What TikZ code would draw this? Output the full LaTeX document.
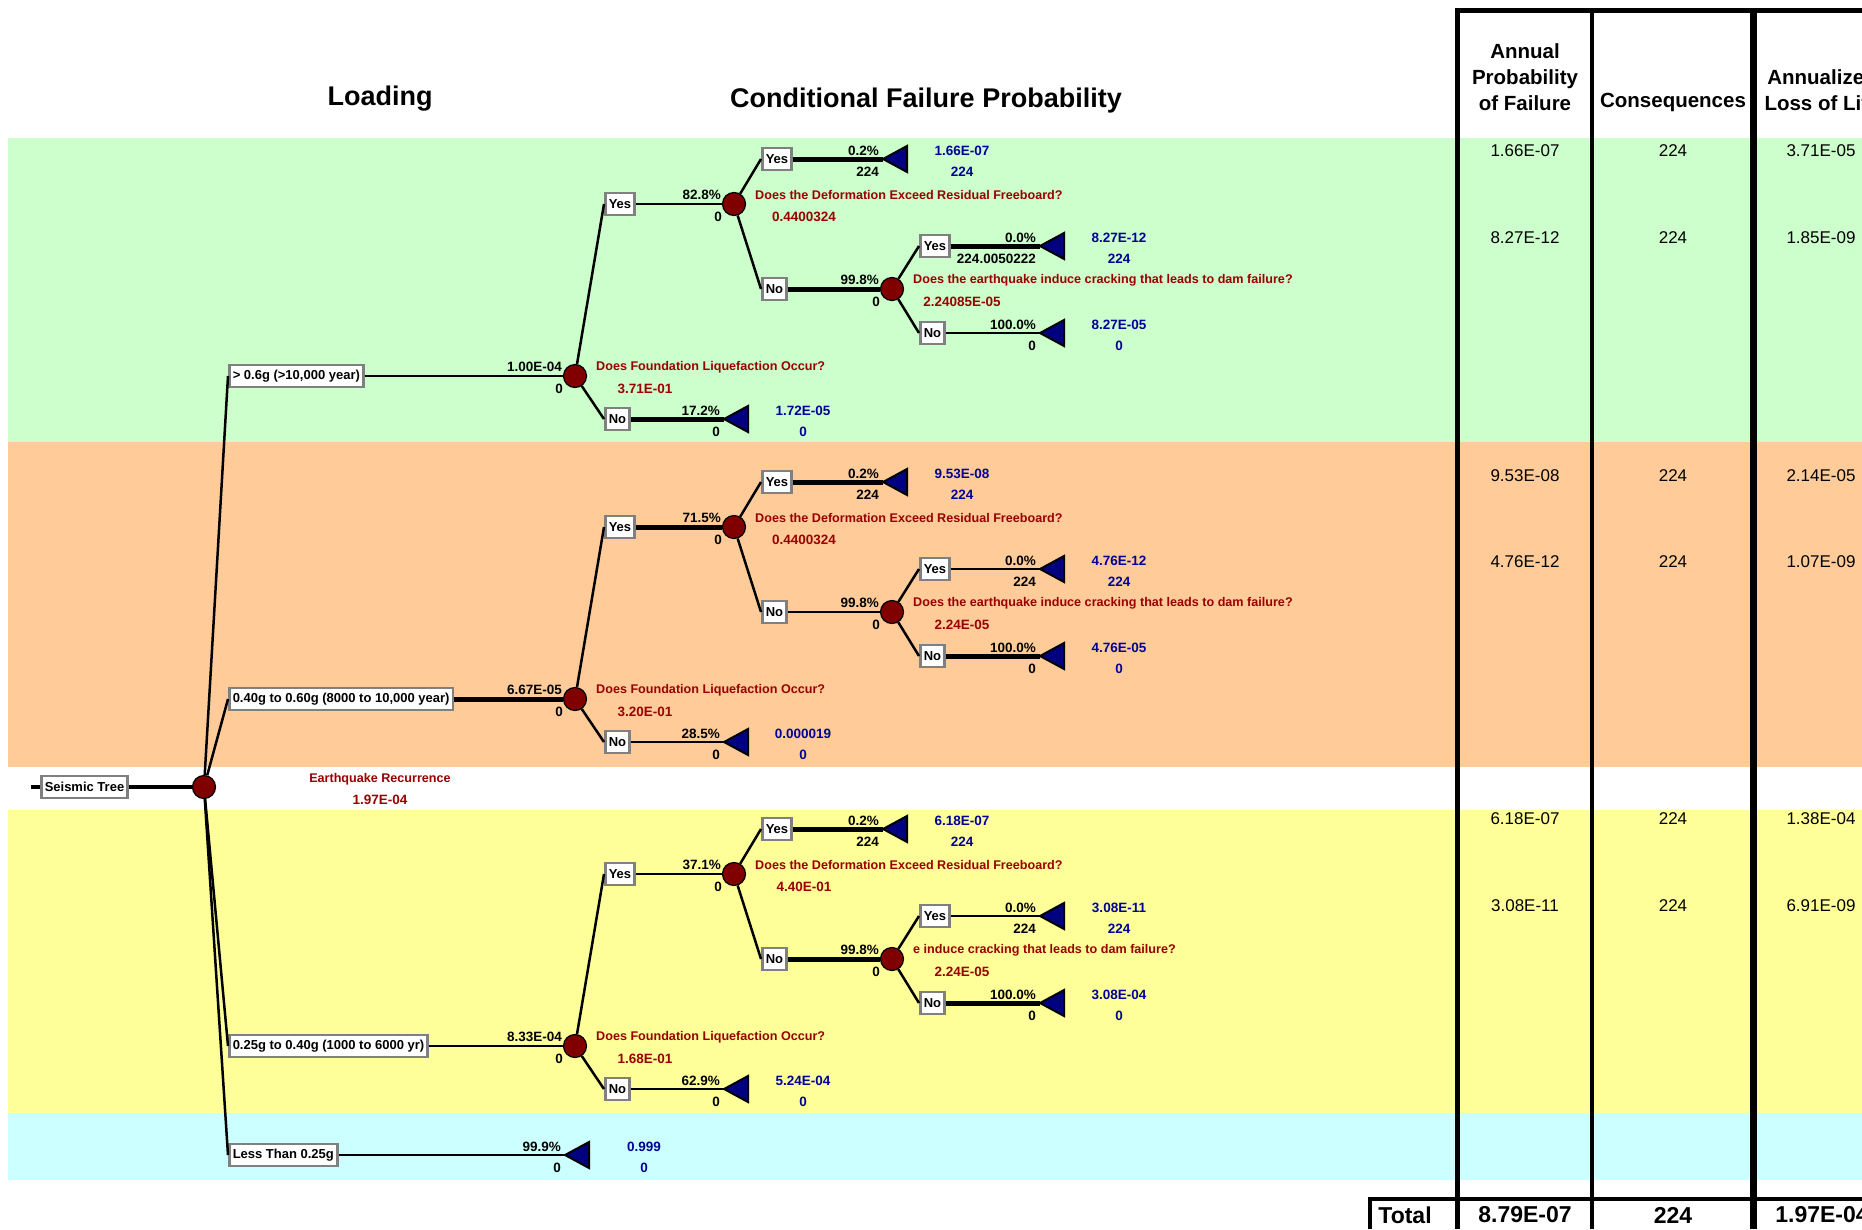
\documentclass[tikz,border=0pt]{standalone}
\usepackage{fontspec}
\setmainfont{Liberation Sans}

\definecolor{bandgreen}{HTML}{CCFFCC}
\definecolor{bandorange}{HTML}{FFCC99}
\definecolor{bandyellow}{HTML}{FFFF99}
\definecolor{bandcyan}{HTML}{CCFFFF}
\definecolor{nodered}{HTML}{800000}
\definecolor{qred}{HTML}{990000}
\definecolor{vblue}{HTML}{000099}
\definecolor{tipblue}{HTML}{000080}
\definecolor{boxgray}{HTML}{808080}

\tikzset{
  chance/.style={circle, draw=black, line width=1.2pt, fill=nodered, minimum size=23pt, inner sep=0pt},
  ans/.style={draw=boxgray, line width=2.5pt, fill=white, minimum height=22pt, inner xsep=3.5pt, inner ysep=2pt, font=\bfseries\fontsize{13}{13}\selectfont},
  num/.style={inner sep=1pt, font=\bfseries\fontsize{13.5}{13.5}\selectfont},
  quest/.style={inner sep=1pt, text=qred, font=\bfseries\fontsize{12.6}{12.6}\selectfont},
  qval/.style={num, text=qred},
  val/.style={num, text=vblue},
  endtip/.style={draw=black, line width=2pt, fill=tipblue, line join=miter},
  conn/.style={line width=2.5pt},
  branch/.style={line width=2pt},
  heavy/.style={line width=5pt},
  heading/.style={font=\bfseries\fontsize{27}{27}\selectfont},
  colhead/.style={align=center, font=\bfseries\fontsize{20.5}{26}\selectfont},
  cell/.style={font=\fontsize{17}{17}\selectfont},
  totcell/.style={font=\bfseries\fontsize{23}{23}\selectfont},
  rule/.style={line width=5pt}
}

\begin{document}
\begin{tikzpicture}[x=1pt,y=-1pt]
\useasboundingbox (0,0) rectangle (1862,1229);
\clip (0,0) rectangle (1862,1229);
% bands
\fill[bandgreen] (8,138) rectangle (1862,442);
\fill[bandorange] (8,442) rectangle (1862,767);
\fill[bandyellow] (8,810) rectangle (1862,1113);
\fill[bandcyan] (8,1113) rectangle (1862,1180);

% table
\draw[rule] (1457,8) -- (1457,1229);
\draw[rule, line width=4.5pt] (1592,8) -- (1592,1229);
\draw[rule, line width=7pt] (1753.5,8) -- (1753.5,1229);
\draw[rule] (1455,10.5) -- (1862,10.5);
\draw[line width=4pt] (1368,1199) -- (1862,1199);
\draw[line width=4pt] (1370,1197) -- (1370,1229);
\node[colhead] (th1) at (1525,77) {Annual\\Probability\\of Failure};
\node[colhead] (th2) at (1673,102) {Consequences};
\node[colhead] (th3) at (1822,90) {Annualized\\Loss of Life};
\foreach \yy/\pf/\al in {151/1.66E-07/3.71E-05, 238/8.27E-12/1.85E-09,
    476/9.53E-08/2.14E-05, 562/4.76E-12/1.07E-09,
    819/6.18E-07/1.38E-04, 906/3.08E-11/6.91E-09}
{
  \node[cell] (pf\yy) at (1525,\yy) {\pf};
  \node[cell] (cq\yy) at (1673,\yy) {224};
  \node[cell] (al\yy) at (1821,\yy) {\al};
}
\node[totcell] (tot) at (1405,1215) {Total};
\node[totcell] (totpf) at (1525,1215) {8.79E-07};
\node[totcell] (totcq) at (1673,1215) {224};
\node[totcell] (total) at (1822,1215) {1.97E-04};

% headings
\node[heading] (hload) at (380,99) {Loading};
\node[heading] (hcfp) at (926,101) {Conditional Failure Probability};

% root and loading
\coordinate (stub) at (31,787);
\node[ans, anchor=west] (seis) at (40,787) {Seismic Tree};
\node[chance] (root) at (204,787) {};
\node[quest] (eqr) at (380,779) {Earthquake Recurrence};
\node[qval] (eqv) at (380,800) {1.97E-04};
\node[ans, anchor=west] (hib) at (228,376) {> 0.6g (>10,000 year)};
\node[ans, anchor=west] (mdb) at (228,699) {0.40g to 0.60g (8000 to 10,000 year)};
\node[ans, anchor=west] (lob) at (228,1046) {0.25g to 0.40g (1000 to 6000 yr)};
\node[ans, anchor=west] (ltb) at (228,1155) {Less Than 0.25g};
\coordinate (ltt) at (565,1155);

% one subtree per band
\foreach \bd/\Y in {hi/376, md/699, lo/1046}
{
  \node[chance] (\bd1) at (575,\Y) {};
  \node[ans, anchor=west] (\bd Y) at (604,\Y-172) {Yes};
  \node[chance] (\bd2) at (734,\Y-172) {};
  \node[ans, anchor=west] (\bd YY) at (761,\Y-217) {Yes};
  \coordinate (\bd YYt) at (883,\Y-217);
  \node[ans, anchor=west] (\bd YN) at (761,\Y-87) {No};
  \node[chance] (\bd3) at (892,\Y-87) {};
  \node[ans, anchor=west] (\bd YNY) at (919,\Y-130) {Yes};
  \coordinate (\bd YNYt) at (1040,\Y-130);
  \node[ans, anchor=west] (\bd YNN) at (919,\Y-43) {No};
  \coordinate (\bd YNNt) at (1040,\Y-43);
  \node[ans, anchor=west] (\bd N) at (604,\Y+43) {No};
  \coordinate (\bd Nt) at (724,\Y+43);
}

\foreach \nd/\pr/\qu/\qv in {
  hi1/1.00E-04/Does Foundation Liquefaction Occur?/3.71E-01,
  hi2/82.8\%/Does the Deformation Exceed Residual Freeboard?/0.4400324,
  hi3/99.8\%/Does the earthquake induce cracking that leads to dam failure?/2.24085E-05,
  md1/6.67E-05/Does Foundation Liquefaction Occur?/3.20E-01,
  md2/71.5\%/Does the Deformation Exceed Residual Freeboard?/0.4400324,
  md3/99.8\%/Does the earthquake induce cracking that leads to dam failure?/2.24E-05,
  lo1/8.33E-04/Does Foundation Liquefaction Occur?/1.68E-01,
  lo2/37.1\%/Does the Deformation Exceed Residual Freeboard?/4.40E-01,
  lo3/99.8\%/e induce cracking that leads to dam failure?/2.24E-05}
{
  \node[num, anchor=east] (\nd-p) at ([xshift=-12pt,yshift=9pt]\nd) {\pr};
  \node[num] (\nd-z) at ([xshift=-16pt,yshift=-13pt]\nd) {0};
  \node[quest, anchor=west] (\nd-q) at ([xshift=20pt,yshift=9pt]\nd) {\qu};
  \node[qval] (\nd-v) at ([xshift=70pt,yshift=-13pt]\nd) {\qv};
}

% connectors
\draw[line width=4pt] (stub) -- (seis.west);
\draw[line width=4pt] (seis) -- (root);
\foreach \to in {hib,mdb,lob,ltb}
  \draw[conn] (root) -- (\to.west);
\foreach \bd in {hi,md,lo}
  \foreach \from/\to in {1/Y,1/N,2/YY,2/YN,3/YNY,3/YNN}
    \draw[conn] (\bd\from) -- (\bd\to.west);
\foreach \from/\to in {hib/hi1,lob/lo1,ltb/ltt,hiY/hi2,hiYNN/hiYNNt,
    mdYN/md3,mdYNY/mdYNYt,mdN/mdNt,loY/lo2,loYNY/loYNYt,loN/loNt}
  \draw[branch] (\from) -- (\to);
\foreach \from/\to in {mdb/md1,hiYY/hiYYt,mdYY/mdYYt,loYY/loYYt,hiYN/hi3,
    hiYNY/hiYNYt,hiN/hiNt,mdY/md2,mdYNN/mdYNNt,loYN/lo3,loYNN/loYNNt}
  \draw[heavy] (\from) -- (\to);

% end points
\foreach \tp/\pc/\lw/\vh/\vl in {
  hiYYt/0.2\%/224/1.66E-07/224,
  hiYNYt/0.0\%/224.0050222/8.27E-12/224,
  hiYNNt/100.0\%/0/8.27E-05/0,
  hiNt/17.2\%/0/1.72E-05/0,
  mdYYt/0.2\%/224/9.53E-08/224,
  mdYNYt/0.0\%/224/4.76E-12/224,
  mdYNNt/100.0\%/0/4.76E-05/0,
  mdNt/28.5\%/0/0.000019/0,
  loYYt/0.2\%/224/6.18E-07/224,
  loYNYt/0.0\%/224/3.08E-11/224,
  loYNNt/100.0\%/0/3.08E-04/0,
  loNt/62.9\%/0/5.24E-04/0,
  ltt/99.9\%/0/0.999/0}
{
  \draw[endtip] (\tp) -- ++(24,-13) -- ++(0,26) -- cycle;
  \node[num, anchor=east] (\tp-p) at ([xshift=-3pt,yshift=8pt]\tp) {\pc};
  \node[num, anchor=east] (\tp-z) at ([xshift=-3pt,yshift=-13pt]\tp) {\lw};
  \node[val] (\tp-v) at ([xshift=79pt,yshift=8pt]\tp) {\vh};
  \node[val] (\tp-w) at ([xshift=79pt,yshift=-13pt]\tp) {\vl};
}
\end{tikzpicture}
\end{document}
